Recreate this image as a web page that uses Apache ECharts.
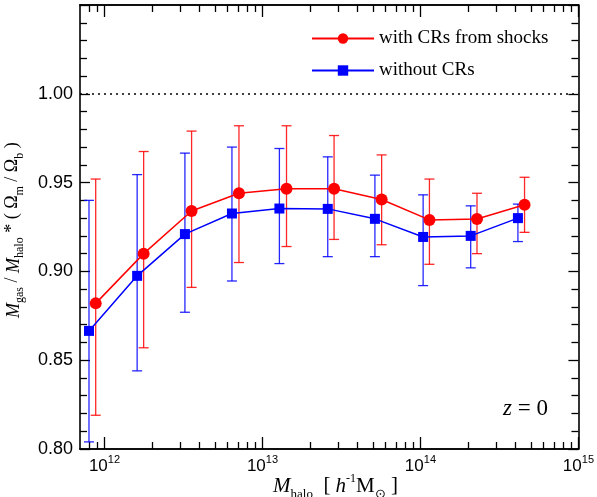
<!DOCTYPE html>
<html><head><meta charset="utf-8">
<script src="https://cdn.jsdelivr.net/npm/echarts@6/dist/echarts.min.js"></script>
<style>html,body{margin:0;padding:0;background:#fff}#c{width:597px;height:497px}</style>
</head><body><div id="c"></div>
<script>
const seriesNames = ['with CRs from shocks', 'without CRs'];
const xMassRed = [8.8e11, 1.77e12, 3.56e12, 7.1e12, 1.42e13, 2.84e13, 5.68e13, 1.14e14, 2.28e14, 4.56e14];
const yRed = [0.882, 0.910, 0.934, 0.944, 0.9465, 0.9465, 0.9405, 0.929, 0.9295, 0.9375];
const redLow = [0.819, 0.857, 0.891, 0.905, 0.914, 0.918, 0.915, 0.904, 0.910, 0.922];
const redHigh = [0.952, 0.9675, 0.979, 0.982, 0.982, 0.9765, 0.9656, 0.952, 0.944, 0.953];
const xMassBlue = [7.98e11, 1.61e12, 3.23e12, 6.41e12, 1.28e13, 2.59e13, 5.15e13, 1.04e14, 2.08e14, 4.14e14];
const yBlue = [0.8665, 0.8975, 0.921, 0.9326, 0.9354, 0.9352, 0.9296, 0.9194, 0.920, 0.930];
const blueLow = [0.804, 0.844, 0.877, 0.8946, 0.9044, 0.9083, 0.9083, 0.892, 0.902, 0.9168];
const blueHigh = [0.940, 0.9545, 0.9666, 0.970, 0.9692, 0.9645, 0.9542, 0.9431, 0.9369, 0.9379];
const majorX = [1e12, 1e13, 1e14, 1e15];
const minorX = [8e11, 9e11, 2e12, 3e12, 4e12, 5e12, 6e12, 7e12, 8e12, 9e12,
  2e13, 3e13, 4e13, 5e13, 6e13, 7e13, 8e13, 9e13,
  2e14, 3e14, 4e14, 5e14, 6e14, 7e14, 8e14, 9e14];
const xMin = 7e11, xMax = 1.000001e15;
const yMin = 0.80, yMax = 1.05, yStep = 0.05;
const refLine = 1.0;

const RED = '#ff0000', BLUE = '#0000ff';
const SERIF = 'Liberation Serif';
const SANS = 'Liberation Sans';

function zip2(a, b) { return a.map((v, i) => [v, b[i]]); }
function zip3(a, b, c) { return a.map((v, i) => [v, b[i], c[i]]); }

function errRender(color) {
  return function (params, api) {
    const x = api.value(0);
    const lo = api.coord([x, api.value(1)]);
    const hi = api.coord([x, api.value(2)]);
    const w = 5;
    const st = { stroke: color, lineWidth: 1.3, opacity: 0.85 };
    return { type: 'group', children: [
      { type: 'line', shape: { x1: lo[0], y1: lo[1], x2: hi[0], y2: hi[1] }, style: st },
      { type: 'line', shape: { x1: lo[0] - w, y1: lo[1], x2: lo[0] + w, y2: lo[1] }, style: st },
      { type: 'line', shape: { x1: hi[0] - w, y1: hi[1], x2: hi[0] + w, y2: hi[1] }, style: st }
    ]};
  };
}

const axLine = { show: true, lineStyle: { color: '#000', width: 1.6 } };
function xAx(pos, major, showLabel) {
  return {
    type: 'log', logBase: 10, min: xMin, max: xMax, position: pos, gridIndex: 0,
    axisLine: axLine,
    axisTick: { show: true, inside: true, length: major ? 12 : 7, customValues: major ? majorX : minorX,
      lineStyle: { color: '#000', width: 1.3 } },
    axisLabel: showLabel ? {
      show: true, customValues: majorX, margin: 4, color: '#000', showMaxLabel: true, showMinLabel: true,
      hideOverlap: false,
      formatter: function (v) { const e = Math.round(Math.log10(v)); return '{b|10}{s|' + e + '}'; },
      rich: {
        b: { fontFamily: SANS, fontSize: 17, color: '#000', lineHeight: 22, verticalAlign: 'bottom' },
        s: { fontFamily: SANS, fontSize: 11, color: '#000', lineHeight: 22, verticalAlign: 'top', padding: [1, 0, 0, 0] }
      }
    } : { show: false },
    splitLine: { show: false }, minorTick: { show: false }
  };
}
function yAx(pos, showLabel) {
  return {
    type: 'value', min: yMin, max: yMax, interval: yStep, position: pos, gridIndex: 0,
    axisLine: axLine,
    axisTick: { show: true, inside: true, length: 10, lineStyle: { color: '#000', width: 1.3 } },
    minorTick: { show: true, splitNumber: 5, length: 7, lineStyle: { color: '#000', width: 1.3 } },
    axisLabel: showLabel ? {
      show: true, color: '#000', fontFamily: SANS, fontSize: 18, margin: 7,
      formatter: function (v) { return v > 1.0001 ? '' : v.toFixed(2); }
    } : { show: false },
    splitLine: { show: false }
  };
}

const chart = echarts.init(document.getElementById('c'), null, { renderer: 'canvas' });
chart.setOption({
  backgroundColor: '#fff',
  animation: false,
  grid: { left: 80, right: 18, top: 5, bottom: 48, containLabel: false },
  xAxis: [xAx('bottom', true, true), xAx('bottom', false, false), xAx('top', true, false), xAx('top', false, false)],
  yAxis: [yAx('left', true), yAx('right', false)],
  legend: {
    data: seriesNames, orient: 'vertical', left: 306, top: 24, itemWidth: 62, itemHeight: 13, itemGap: 13,
    textStyle: { fontFamily: SERIF, fontSize: 19, color: '#000' }
  },
  graphic: [
    { type: 'text', left: 273, top: 473, style: {
      text: '{mi|M}{sub|halo}  [ {hi|h}{sup|-1}{n|M}{sub|⊙} ]',
      rich: {
        mi: { fontFamily: SERIF, fontStyle: 'italic', fontSize: 21, fill: '#000', lineHeight: 24, verticalAlign: 'bottom' },
        hi: { fontFamily: SERIF, fontStyle: 'italic', fontSize: 21, fill: '#000', lineHeight: 24, verticalAlign: 'bottom' },
        n: { fontFamily: SERIF, fontSize: 21, fill: '#000', lineHeight: 24, verticalAlign: 'bottom' },
        sub: { fontFamily: SERIF, fontSize: 13, fill: '#000', lineHeight: 24, verticalAlign: 'bottom', padding: [0, 0, -4, 0] },
        sup: { fontFamily: SERIF, fontSize: 12, fill: '#000', lineHeight: 24, verticalAlign: 'top' }
      },
      font: '21px ' + SERIF, fill: '#000'
    } },
    { type: 'text', x: 1, y: 318, rotation: Math.PI / 2, style: {
      text: '{mi|M}{sub|gas} / {mi|M}{sub|halo} * ( Ω{sub|m} / Ω{sub|b} )',
      rich: {
        mi: { fontFamily: SERIF, fontStyle: 'italic', fontSize: 18, fill: '#000', lineHeight: 22, verticalAlign: 'bottom' },
        sub: { fontFamily: SERIF, fontSize: 12, fill: '#000', lineHeight: 22, verticalAlign: 'bottom', padding: [0, 0, -3, 0] }
      },
      font: '18px ' + SERIF, fill: '#000', textVerticalAlign: 'top'
    } },
    { type: 'text', left: 503, top: 397, style: {
      text: '{i|z} = 0',
      rich: { i: { fontFamily: SERIF, fontStyle: 'italic', fontSize: 23, fill: '#000' } },
      font: '23px ' + SERIF, fill: '#000'
    } }
  ],
  series: [
    { name: 'errRed', type: 'custom', xAxisIndex: 0, yAxisIndex: 0, renderItem: errRender(RED),
      data: zip3(xMassRed, redLow, redHigh), encode: { x: 0, y: [1, 2] }, z: 2, silent: true },
    { name: 'errBlue', type: 'custom', xAxisIndex: 0, yAxisIndex: 0, renderItem: errRender(BLUE),
      data: zip3(xMassBlue, blueLow, blueHigh), encode: { x: 0, y: [1, 2] }, z: 2, silent: true },
    { name: seriesNames[0], type: 'line', xAxisIndex: 0, yAxisIndex: 0, data: zip2(xMassRed, yRed),
      symbol: 'circle', symbolSize: 12, itemStyle: { color: RED }, lineStyle: { color: RED, width: 1.5 }, z: 3,
      markLine: { silent: true, symbol: ['none', 'none'], label: { show: false },
        lineStyle: { color: '#000', type: [2, 4], width: 1.5 }, data: [{ yAxis: refLine }] } },
    { name: seriesNames[1], type: 'line', xAxisIndex: 0, yAxisIndex: 0, data: zip2(xMassBlue, yBlue),
      symbol: 'rect', symbolSize: 10, itemStyle: { color: BLUE }, lineStyle: { color: BLUE, width: 1.5 }, z: 3 }
  ]
});
</script></body></html>
